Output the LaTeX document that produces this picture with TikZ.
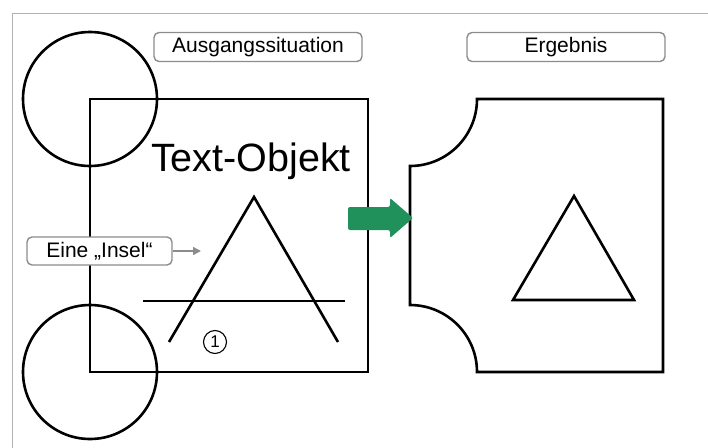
\documentclass[tikz,border=0pt]{standalone}
\usepackage{fontspec}
\setmainfont{Liberation Sans}
\usetikzlibrary{arrows.meta}
\definecolor{pfeilgruen}{RGB}{33,145,92}
\tikzstyle{kontur} = [draw, line width=2.6pt, line join=miter]
\tikzstyle{labelbox} = [draw=gray!90, line width=1.4pt, rounded corners=5pt, minimum height=29pt, inner sep=0pt, font=\fontsize{21}{22}\selectfont]
\tikzstyle{hinweis} = [draw=gray!90, line width=1.4pt, -{Triangle[length=8pt,width=8pt]}]

\begin{document}
\begin{tikzpicture}[x=1pt, y=-1pt]
            \useasboundingbox (0,0) rectangle (708,447);
            \draw[gray!60, line width=1pt] (12,460) -- (12,13) -- (720,13);

            % Ausgangssituation
            \draw[kontur] (90,99) circle[radius=67pt];
            \draw[kontur] (90,372) circle[radius=67pt];
            \draw[kontur] (90,99) rectangle (368,372);
            \node[font=\fontsize{39.5}{41}\selectfont] (text) at (251,161) {Text-Objekt};
            \draw[kontur] (169,342) -- (254,197) -- (338,342);
            \draw[kontur] (143,301) -- (345,301);
            \node[draw, circle, line width=1.1pt, minimum size=23pt, inner sep=0pt, font=\fontsize{17}{17}\selectfont] (eins) at (215,342) {1};

            % Ergebnis
            \draw[kontur] (477,99) -- (663,99) -- (663,372) -- (477,372)
                arc[start angle=0, end angle=90, radius=67pt] -- (410,166)
                arc[start angle=-90, end angle=0, radius=67pt] -- cycle;
            \draw[kontur] (574,196) -- (634,300) -- (513,300) -- cycle;

            % Pfeil
            \fill[pfeilgruen, rounded corners=2pt] (348,207) -- (390,207) -- (390,198) -- (413,218)
                -- (390,238) -- (390,230) -- (348,230) -- cycle;

            \node[labelbox, minimum width=208pt] (ausgang)  at (258,47) {Ausgangssituation};
            \node[labelbox, minimum width=198pt] (ergebnis) at (566,47) {Ergebnis};
            \node[labelbox, minimum width=145pt, minimum height=28pt, fill=white] (insel) at (99.5,251) {Eine „Insel“};
            \coordinate (inselziel) at (201,251);

            \draw[hinweis] (insel) -- (inselziel);
        \end{tikzpicture}
\end{document}
